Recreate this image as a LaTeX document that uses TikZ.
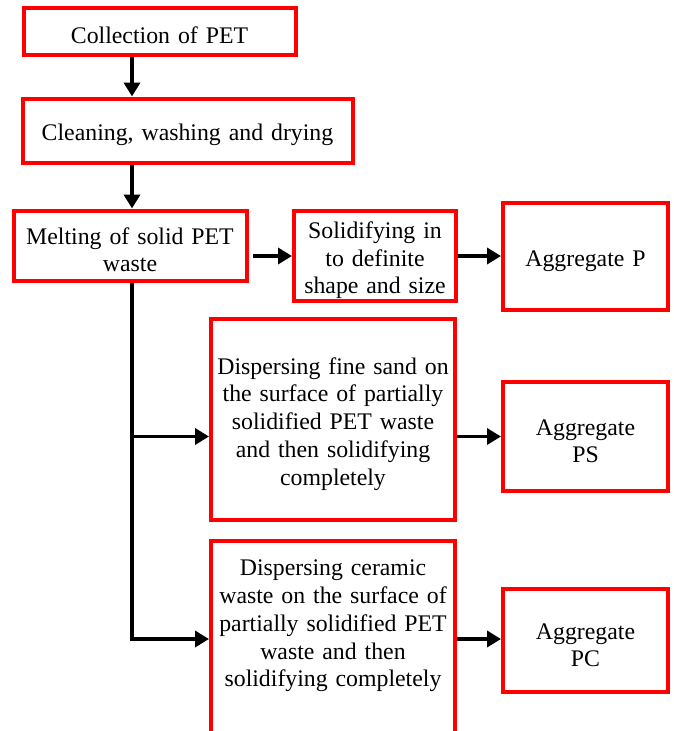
\documentclass[tikz,border=0pt]{standalone}
\usepackage{fontspec}
\setmainfont{Liberation Serif}
\usetikzlibrary{arrows.meta}
\begin{document}
\begin{tikzpicture}[x=1pt,y=-1pt,
  box/.style={draw=red, line width=4pt, fill=white, inner sep=0pt, align=center,
    font=\fontsize{23.8pt}{27.7pt}\selectfont, execute at begin node={\rule{0pt}{25.5pt}}},
  lbl/.style={inner sep=0pt, align=center, font=\fontsize{23.8pt}{27.7pt}\selectfont},
  arr/.style={line width=3.5pt, -{Triangle[length=14pt,width=16pt]}}]
\useasboundingbox (0,0) rectangle (673,731);
\node[box, minimum width=272pt, minimum height=47.5pt, text width=266pt] (b1) at (159.5,31.25) {Collection of PET};
\node[box, minimum width=330pt, minimum height=64pt, text width=324pt] (b2) at (187.5,130.5) {Cleaning, washing and drying};
\node[box, minimum width=233pt, minimum height=70pt, text width=228pt] (b3) at (130,245.5) {Melting of solid PET\\waste};
\node[box, minimum width=162pt, minimum height=90pt, text width=158pt] (b4) at (375,256) {Solidifying in\\to definite\\shape and size};
\node[box, minimum width=165pt, minimum height=107pt, text width=160pt] (b5) at (585.5,256.5) {Aggregate P};
\node[box, minimum width=244pt, minimum height=201pt, text width=238pt] (b6) at (333,419.5) {Dispersing fine sand on\\the surface of partially\\solidified PET waste\\and then solidifying\\completely};
\node[box, minimum width=165pt, minimum height=109pt, text width=160pt] (b7) at (585.5,436.5) {Aggregate\\PS};
\node[draw=red, line width=4pt, fill=white, minimum width=244pt, minimum height=196pt] (b8) at (333,639) {};
\node[lbl, text width=238pt] (b8t) at (333,626) {Dispersing ceramic\\waste on the surface of\\partially solidified PET\\waste and then\\solidifying completely};
\node[box, minimum width=165pt, minimum height=103pt, text width=160pt] (b9) at (585.5,640.5) {Aggregate\\PC};
\coordinate (v) at (132,0);
\coordinate (s3) at (253,256);
\draw[arr] (b1.south -| v) -- (b2.north -| v);
\draw[arr] (b2.south -| v) -- (b3.north -| v);
\draw[arr] (s3) -- (s3 -| b4.west);
\draw[arr] (b4.east) -- (b4.east -| b5.west);
\draw[line width=3.5pt] (b3.south -| v) -- (v |- b8.west);
\draw[arr] (v |- b7.west) -- (b6.west |- b7.west);
\draw[arr] ([xshift=-1.75pt]v |- b8.west) -- (b8.west);
\draw[arr] (b6.east |- b7.west) -- (b7.west);
\draw[arr] (b8.east) -- (b8.east -| b9.west);
\end{tikzpicture}
\end{document}
